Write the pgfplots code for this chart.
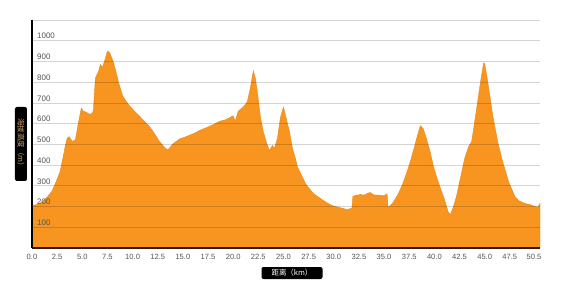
\documentclass[border=0pt]{standalone}
\usepackage{fontspec}
\setmainfont{Liberation Sans}
\newfontfamily\cjk{Noto Sans CJK SC}
\usepackage{pgfplots}
\pgfplotsset{compat=1.18}
\definecolor{fillor}{RGB}{248,149,32}
\definecolor{edgeor}{RGB}{236,136,22}
\definecolor{tickgrey}{RGB}{85,85,85}
\definecolor{darkbrown}{RGB}{50,22,8}
\definecolor{ylabtxt}{RGB}{205,160,100}
\begin{document}
\begin{tikzpicture}
\useasboundingbox (-32bp,-38bp) rectangle (548bp,248bp);
\begin{axis}[
  scale only axis, width=508bp, height=228bp,
  xmin=0, xmax=50.5, ymin=0, ymax=1100,
  axis x line=bottom, axis y line=left, axis line style={-},
  x axis line style={draw=darkbrown, line width=1.6bp},
  y axis line style={draw=black, line width=1.6bp},
  axis on top,
  ymajorgrids,
  major grid style={draw=black, opacity=0.17, line width=0.8bp},
  major tick length=0pt,
  ytick={100,200,300,400,500,600,700,800,900,1000,1100},
  yticklabels={100,200,300,400,500,600,700,800,900,1000,},
  yticklabel style={anchor=south west, inner sep=1.5bp, xshift=3.5bp, font=\fontsize{8}{9}\selectfont, text=tickgrey},
  xtick={0,2.5,...,47.5},
  xticklabel style={font=\fontsize{7.6}{9}\selectfont, text=tickgrey, yshift=-3bp,
    /pgf/number format/fixed, /pgf/number format/fixed zerofill, /pgf/number format/precision=1},
  extra x ticks={50.5},
  extra x tick labels={50.5},
  extra x tick style={xticklabel style={xshift=-6bp}},
  /pgf/number format/assume math mode=true,
]
\addplot[fill=fillor, draw=edgeor, line width=0.4bp] coordinates {
(0.0,205) (0.5,210) (1.0,222) (1.5,245) (2.0,275) (2.4,320) (2.8,370) (3.1,440) (3.3,490) (3.5,530) (3.7,537) (4.0,515) (4.3,520) (4.6,600) (4.9,675) (5.1,660) (5.4,655) (5.7,645) (6.0,650) (6.1,665) (6.3,820) (6.6,850) (6.8,885) (7.0,872) (7.2,900) (7.5,950) (7.7,945) (8.05,902) (8.3,860) (8.6,800) (9.0,735) (9.4,705) (9.7,685) (10.2,660) (10.7,635) (11.2,610) (11.7,585) (12.2,550) (12.7,512) (13.1,490) (13.4,475) (13.6,478) (14.0,502) (14.7,527) (15.2,535) (15.7,545) (16.2,555) (16.7,568) (17.2,578) (17.7,588) (18.2,600) (18.7,612) (19.2,618) (19.6,627) (20.0,638) (20.2,612) (20.5,660) (21.0,680) (21.4,705) (21.7,770) (22.0,855) (22.2,820) (22.4,755) (22.7,635) (23.0,560) (23.3,510) (23.6,470) (23.9,495) (24.1,480) (24.4,530) (24.7,630) (25.0,680) (25.3,620) (25.6,560) (25.9,480) (26.2,430) (26.4,390) (26.7,360) (26.9,340) (27.2,310) (27.5,290) (28.0,262) (28.5,245) (29.0,228) (29.5,213) (30.0,202) (30.5,196) (31.0,190) (31.3,185) (31.8,192) (31.9,250) (32.3,255) (32.7,258) (33.0,255) (33.3,262) (33.6,268) (34.0,256) (34.5,255) (35.0,252) (35.3,262) (35.4,195) (35.9,220) (36.4,260) (36.9,315) (37.3,370) (37.6,415) (38.0,485) (38.3,540) (38.6,590) (38.9,575) (39.2,530) (39.6,460) (39.9,395) (40.3,330) (40.7,275) (41.0,235) (41.4,170) (41.6,162) (41.9,200) (42.2,250) (42.6,340) (43.0,430) (43.4,490) (43.7,512) (44.1,640) (44.6,805) (44.9,893) (45.0,890) (45.3,805) (45.8,640) (46.3,512) (46.8,415) (47.4,317) (48.0,249) (48.4,228) (48.8,219) (49.2,212) (49.5,210) (50.0,200) (50.3,198) (50.5,215)
} \closedcycle;
\end{axis}
\node[fill=black, rounded corners=2bp, minimum width=74bp, minimum height=12bp, inner sep=0pt, rotate=-90, text=ylabtxt, font=\cjk\fontsize{7.5}{8}\selectfont] at (-11bp,104bp) {海拔高度（m）};
\node[fill=black, rounded corners=2bp, minimum width=61bp, minimum height=12bp, inner sep=0pt, text=white, font=\cjk\fontsize{7.5}{8}\selectfont] at (260bp,-25bp) {距离（km）};
\end{tikzpicture}
\end{document}
